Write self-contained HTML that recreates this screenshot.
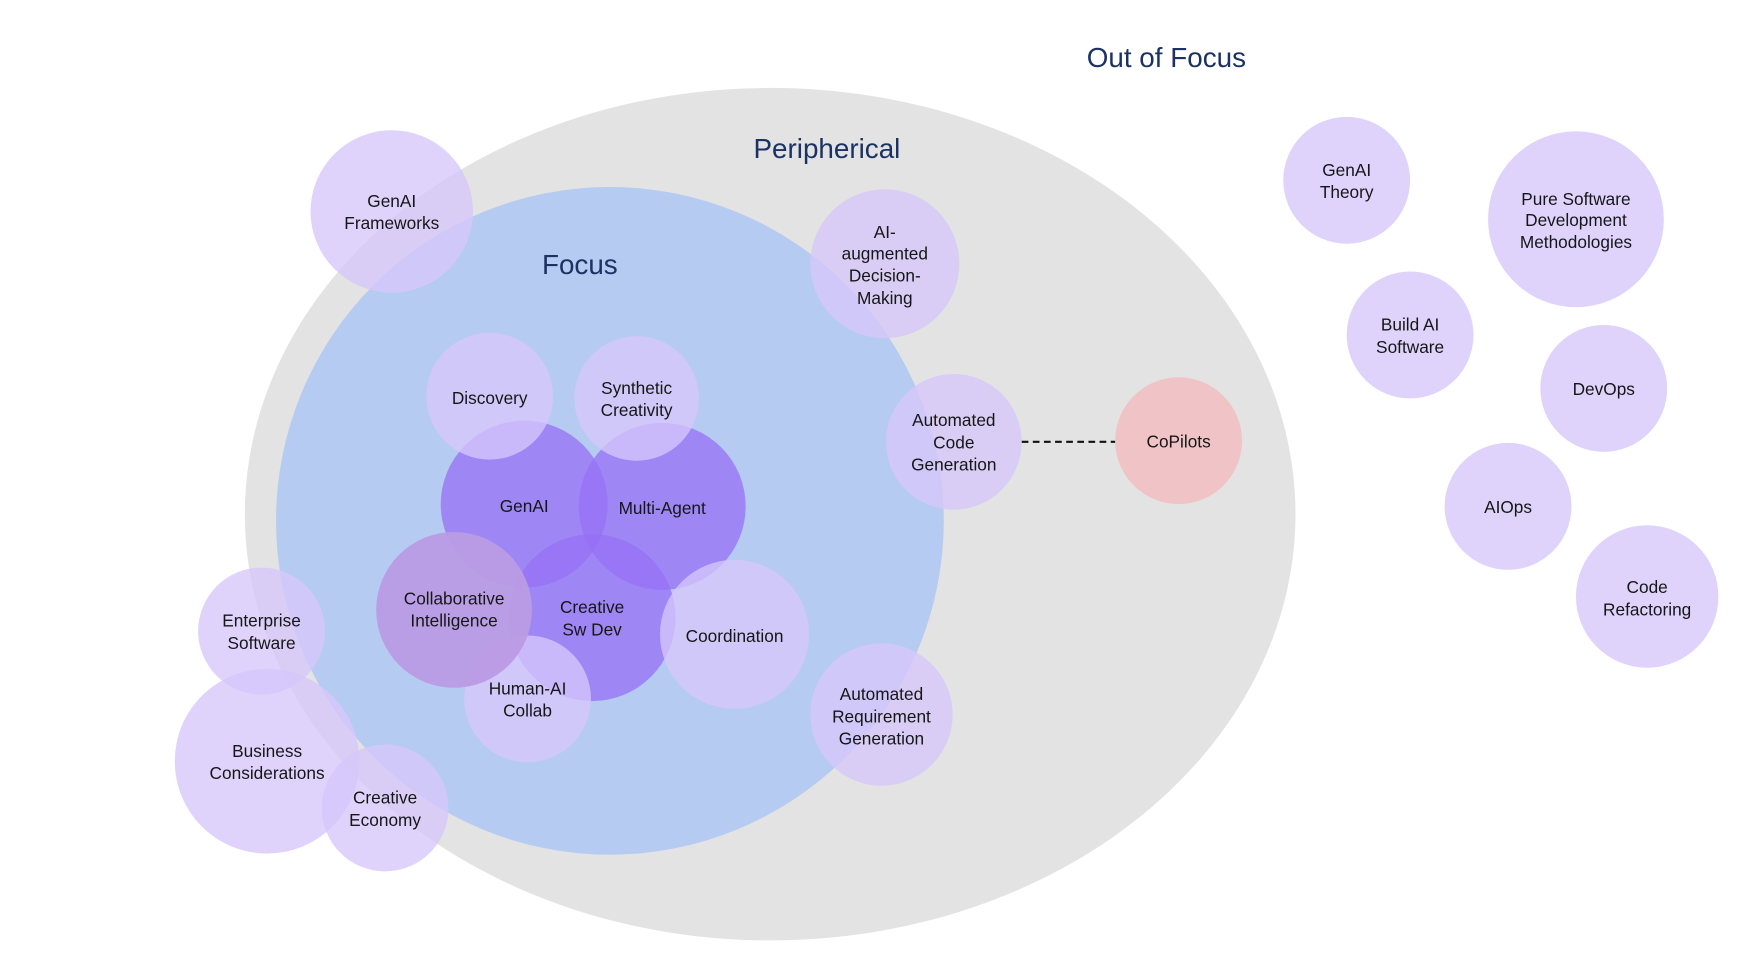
<!DOCTYPE html>
<html><head><meta charset="utf-8"><style>
html,body{margin:0;padding:0;background:#fff;width:1744px;height:976px;overflow:hidden}
svg{display:block}
text{font-family:"Liberation Sans",sans-serif;fill:#161616;font-size:15.5px;text-anchor:middle}
.h{fill:#1b3262;font-size:25px}
.l{fill:#d6c6fb;fill-opacity:.78}
.d{fill:#9570f6;fill-opacity:.75}
</style></head><body>
<svg width="1744" height="976" viewBox="0 0 1567 877" preserveAspectRatio="none" xmlns="http://www.w3.org/2000/svg">
<rect width="1567" height="877" fill="#fff"/>
<ellipse cx="692" cy="462" rx="472" ry="383" fill="#e3e3e3"/>
<circle cx="548" cy="468" r="300" fill="#b6cbf2"/>
<text class="h" x="1048" y="60">Out of Focus</text>
<text class="h" x="743" y="142">Peripherical</text>
<text class="h" x="521" y="246">Focus</text>
<line x1="918" y1="397" x2="1002" y2="397" stroke="#111" stroke-width="2" stroke-dasharray="6,4"/>

<circle class="d" cx="471" cy="453" r="75"/>
<circle class="d" cx="595" cy="455" r="75"/>
<circle class="d" cx="532" cy="555" r="75"/>
<circle class="l" cx="440" cy="356" r="57"/>
<circle class="l" cx="572" cy="358" r="56"/>
<circle class="l" cx="474" cy="628" r="57"/>
<circle cx="408" cy="548" r="70" fill="#bb9be4" fill-opacity=".95"/>
<circle class="l" cx="660" cy="570" r="67"/>
<circle class="l" cx="352" cy="190" r="73"/>
<circle class="l" cx="795" cy="237" r="67"/>
<circle class="l" cx="857" cy="397" r="61"/>
<circle cx="1059" cy="396" r="57" fill="#f0c4c6"/>
<circle class="l" cx="792" cy="642" r="64"/>
<circle class="l" cx="235" cy="567" r="57"/>
<circle class="l" cx="240" cy="684" r="83"/>
<circle class="l" cx="346" cy="726" r="57"/>
<circle class="l" cx="1210" cy="162" r="57"/>
<circle class="l" cx="1416" cy="197" r="79"/>
<circle class="l" cx="1267" cy="301" r="57"/>
<circle class="l" cx="1441" cy="349" r="57"/>
<circle class="l" cx="1355" cy="455" r="57"/>
<circle class="l" cx="1480" cy="536" r="64"/>

<text x="440" y="363">Discovery</text>
<text x="572" y="354">Synthetic</text><text x="572" y="374">Creativity</text>
<text x="471" y="460">GenAI</text>
<text x="595" y="462">Multi-Agent</text>
<text x="408" y="543">Collaborative</text><text x="408" y="563">Intelligence</text>
<text x="532" y="551">Creative</text><text x="532" y="571">Sw Dev</text>
<text x="474" y="624">Human-AI</text><text x="474" y="644">Collab</text>
<text x="660" y="577">Coordination</text>
<text x="352" y="186">GenAI</text><text x="352" y="206">Frameworks</text>
<text x="795" y="214">AI-</text><text x="795" y="233">augmented</text><text x="795" y="253">Decision-</text><text x="795" y="273">Making</text>
<text x="857" y="383">Automated</text><text x="857" y="403">Code</text><text x="857" y="423">Generation</text>
<text x="1059" y="402">CoPilots</text>
<text x="792" y="629">Automated</text><text x="792" y="649">Requirement</text><text x="792" y="669">Generation</text>
<text x="235" y="563">Enterprise</text><text x="235" y="583">Software</text>
<text x="240" y="680">Business</text><text x="240" y="700">Considerations</text>
<text x="346" y="722">Creative</text><text x="346" y="742">Economy</text>
<text x="1210" y="158">GenAI</text><text x="1210" y="178">Theory</text>
<text x="1416" y="184">Pure Software</text><text x="1416" y="203">Development</text><text x="1416" y="223">Methodologies</text>
<text x="1267" y="297">Build AI</text><text x="1267" y="317">Software</text>
<text x="1441" y="355">DevOps</text>
<text x="1355" y="461">AIOps</text>
<text x="1480" y="533">Code</text><text x="1480" y="553">Refactoring</text>
</svg>
</body></html>
